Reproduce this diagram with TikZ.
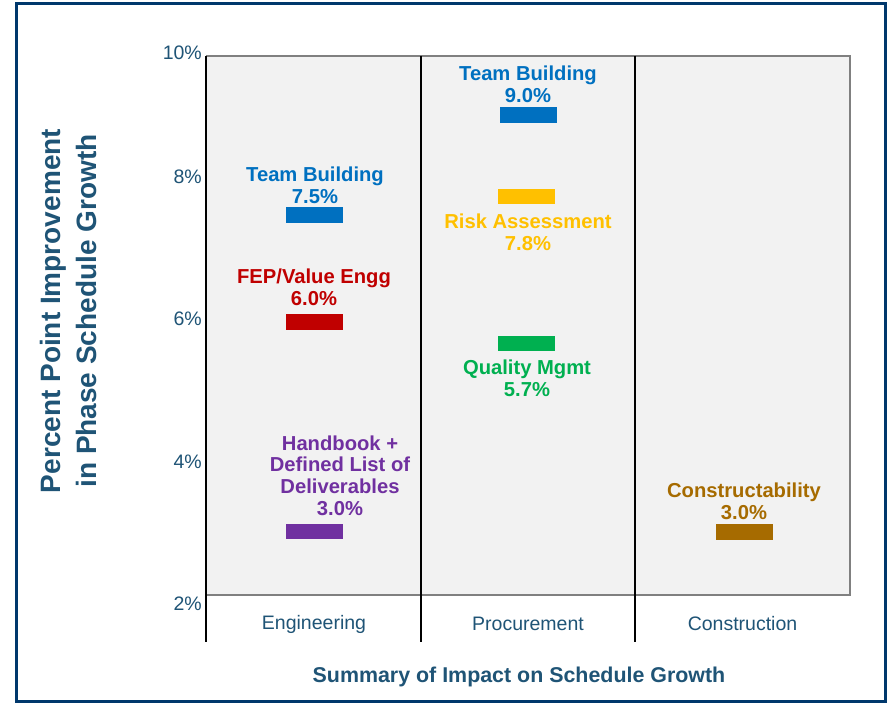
\documentclass[tikz,border=0pt]{standalone}
\usepackage{fontspec}
\setmainfont{Liberation Sans}
\definecolor{framecol}{RGB}{0,56,108}
\definecolor{axtext}{RGB}{31,84,118}
\definecolor{panelfill}{RGB}{242,242,242}
\definecolor{panelline}{RGB}{128,128,128}
\definecolor{cblue}{RGB}{0,112,192}
\definecolor{cred}{RGB}{192,0,0}
\definecolor{cyellow}{RGB}{255,192,0}
\definecolor{cgreen}{RGB}{0,176,80}
\definecolor{cpurple}{RGB}{112,48,160}
\definecolor{cbrown}{RGB}{166,107,0}
\begin{document}
\begin{tikzpicture}[x=1pt,y=-1pt,
  bar/.style={rectangle, inner sep=0pt, draw=none, minimum width=57pt, minimum height=15.5pt},
  lab/.style={inner sep=0pt, align=center, font=\fontsize{20.2}{21.7}\selectfont\bfseries},
  tick/.style={inner sep=0pt, anchor=east, text=axtext, font=\fontsize{19.5}{22}\selectfont},
  cat/.style={inner sep=0pt, text=axtext, font=\fontsize{19.5}{22}\selectfont},
  divider/.style={black, line width=2pt}
]
\useasboundingbox (0,0) rectangle (893,703);
\fill[white] (0,0) rectangle (893,703);
\draw[framecol, line width=3pt] (16,3.5) rectangle (885,701.5);

% panel
\fill[panelfill] (206,56) rectangle (850,595);
\draw[panelline, line width=1.2pt] (206,56) -- (850,56) -- (850,595) -- (206,595);
\coordinate (axtop) at (206,56);
\coordinate (axbot) at (206,642);
\coordinate (d1top) at (421,56);
\coordinate (d1bot) at (421,642);
\coordinate (d2top) at (635,56);
\coordinate (d2bot) at (635,642);
\draw[divider] (axtop) -- (axbot);
\draw[divider] (d1top) -- (d1bot);
\draw[divider] (d2top) -- (d2bot);

% ticks
\node[tick] (t10) at (202,53) {10\%};
\node[tick] (t8) at (202,177) {8\%};
\node[tick] (t6) at (202,319) {6\%};
\node[tick] (t4) at (202,461.5) {4\%};
\node[tick] (t2) at (202,604) {2\%};

% categories
\node[cat] (ceng) at (314,624) {Engineering};
\node[cat] (cproc) at (528,624) {Procurement};
\node[cat] (ccon) at (742.5,624) {Construction};

% axis titles
\node[inner sep=0pt, text=axtext, font=\fontsize{21.4}{24}\selectfont\bfseries] (xtitle) at (519,677) {Summary of Impact on Schedule Growth};
\node[inner sep=0pt, text=axtext, align=center, rotate=90, font=\fontsize{28}{36}\selectfont\bfseries] (ytitle) at (68,311) {Percent Point Improvement\\in Phase Schedule Growth};

% engineering
\node[bar, fill=cblue] (b1) at (314.5,215) {};
\node[lab, text=cblue] (l1) at (315,185.5) {Team Building\\7.5\%};
\node[bar, fill=cred] (b2) at (314.5,322) {};
\node[lab, text=cred] (l2) at (314,287) {FEP/Value Engg\\6.0\%};
\node[bar, fill=cpurple] (b3) at (314.5,531.7) {};
\node[lab, text=cpurple] (l3) at (340,475.5) {Handbook +\\Defined List of\\Deliverables\\3.0\%};

% procurement
\node[bar, fill=cblue] (b4) at (528.5,115) {};
\node[lab, text=cblue] (l4) at (528,84) {Team Building\\9.0\%};
\node[bar, fill=cyellow] (b5) at (526.5,196.7) {};
\node[lab, text=cyellow] (l5) at (528,232) {Risk Assessment\\7.8\%};
\node[bar, fill=cgreen] (b6) at (526.5,343.7) {};
\node[lab, text=cgreen] (l6) at (527,378.5) {Quality Mgmt\\5.7\%};

% construction
\node[bar, fill=cbrown] (b7) at (744.5,532) {};
\node[lab, text=cbrown] (l7) at (744,501.5) {Constructability\\3.0\%};
\end{tikzpicture}
\end{document}
